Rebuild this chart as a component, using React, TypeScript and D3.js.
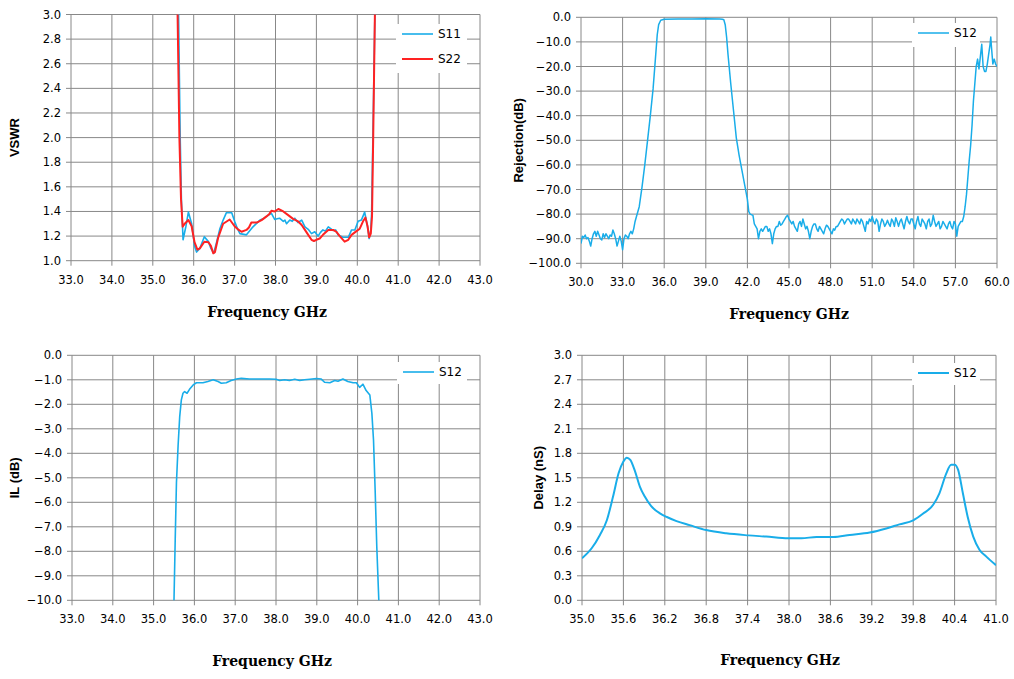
import React from 'react';
import * as d3 from 'd3';

// measured traces, [frequency GHz, value]
const vswrS11: [number, number][] = [
  [35.6, 4.0], [35.63, 3.0], [35.67, 2.0], [35.7, 1.49], [35.74, 1.17], [35.81, 1.28], [35.87, 1.395],
  [35.95, 1.3], [36.02, 1.12], [36.07, 1.07], [36.15, 1.1], [36.26, 1.195], [36.36, 1.155], [36.42, 1.1],
  [36.49, 1.06], [36.56, 1.15], [36.64, 1.26], [36.72, 1.33], [36.8, 1.39], [36.93, 1.39], [37.0, 1.32],
  [37.07, 1.26], [37.13, 1.22], [37.29, 1.21], [37.45, 1.275], [37.62, 1.33], [37.7, 1.34], [37.78, 1.36],
  [37.9, 1.385], [37.98, 1.335], [38.04, 1.34], [38.1, 1.345], [38.19, 1.32], [38.23, 1.33], [38.27, 1.3],
  [38.35, 1.33], [38.41, 1.32], [38.47, 1.345], [38.55, 1.31], [38.64, 1.33], [38.72, 1.275], [38.8, 1.255],
  [38.88, 1.22], [38.96, 1.235], [39.04, 1.2], [39.1, 1.23], [39.16, 1.25], [39.22, 1.24], [39.29, 1.275],
  [39.35, 1.26], [39.41, 1.245], [39.47, 1.25], [39.53, 1.21], [39.65, 1.19], [39.78, 1.19], [39.86, 1.25],
  [39.94, 1.25], [40.02, 1.32], [40.1, 1.33], [40.18, 1.395], [40.25, 1.28], [40.29, 1.18], [40.33, 1.25],
  [40.35, 1.385], [40.39, 2.17], [40.43, 3.0], [40.45, 4.0],
];

const vswrS22: [number, number][] = [
  [35.58, 4.0], [35.606, 3.0], [35.65, 2.0], [35.69, 1.5], [35.73, 1.276], [35.78, 1.3], [35.87, 1.33],
  [35.95, 1.28], [36.02, 1.15], [36.09, 1.09], [36.15, 1.1], [36.26, 1.154], [36.36, 1.15], [36.42, 1.12],
  [36.48, 1.06], [36.52, 1.07], [36.6, 1.19], [36.72, 1.3], [36.88, 1.335], [37.0, 1.28], [37.1, 1.25],
  [37.17, 1.235], [37.29, 1.25], [37.35, 1.27], [37.41, 1.31], [37.54, 1.31], [37.6, 1.32], [37.66, 1.33],
  [37.78, 1.36], [37.85, 1.38], [37.9, 1.405], [37.98, 1.4], [38.07, 1.42], [38.19, 1.4], [38.31, 1.37],
  [38.43, 1.34], [38.55, 1.32], [38.64, 1.29], [38.72, 1.25], [38.8, 1.21], [38.88, 1.17], [38.94, 1.16],
  [39.0, 1.17], [39.08, 1.18], [39.16, 1.21], [39.29, 1.25], [39.41, 1.25], [39.49, 1.235], [39.57, 1.2],
  [39.69, 1.155], [39.78, 1.17], [39.86, 1.21], [39.98, 1.24], [40.06, 1.26], [40.14, 1.32], [40.2, 1.35],
  [40.25, 1.28], [40.29, 1.19], [40.33, 1.22], [40.36, 1.36], [40.39, 2.03], [40.43, 3.0], [40.45, 4.0],
];

const rejectionS12: [number, number][] = [
  [30.0, -92], [30.1, -89], [30.2, -89.5], [30.3, -88.5], [30.4, -90], [30.5, -89.5], [30.6, -91], [30.7, -93],
  [30.8, -90], [30.9, -88], [31.0, -87], [31.1, -89], [31.2, -87], [31.3, -88.5], [31.4, -90], [31.5, -90.5],
  [31.6, -88], [31.7, -89.5], [31.8, -88], [31.9, -89], [32.0, -90], [32.1, -88.5], [32.2, -89], [32.3, -86.5],
  [32.4, -88], [32.5, -90], [32.6, -93], [32.7, -91], [32.8, -89], [32.9, -91], [33.0, -94.5], [33.1, -90],
  [33.2, -88.5], [33.3, -89], [33.4, -90], [33.5, -88], [33.6, -87], [33.7, -88], [33.8, -86], [33.9, -83],
  [34.0, -81], [34.2, -77], [34.4, -69], [34.6, -60], [34.8, -50], [35.0, -40], [35.2, -29], [35.35, -18],
  [35.5, -7], [35.6, -3], [35.75, -1.2], [36.0, -0.8], [37.0, -0.7], [38.0, -0.65], [39.0, -0.6],
  [40.0, -0.7], [40.2, -0.8], [40.3, -1.0], [40.4, -3], [40.5, -8], [40.6, -15], [40.8, -27], [41.0, -38],
  [41.2, -49], [41.4, -56], [41.6, -62], [41.8, -68], [42.0, -74], [42.1, -79], [42.2, -80], [42.4, -80.5],
  [42.5, -84], [42.6, -85], [42.7, -86], [42.8, -90], [42.9, -87], [43.0, -86], [43.1, -87], [43.2, -86],
  [43.3, -85], [43.4, -85], [43.5, -87], [43.6, -86], [43.7, -88], [43.8, -92], [43.9, -88], [44.0, -86],
  [44.1, -85], [44.2, -85], [44.3, -83], [44.4, -84.5], [44.5, -84], [44.6, -83], [44.7, -82], [44.8, -81],
  [44.9, -80.5], [45.0, -82], [45.1, -83], [45.2, -84], [45.3, -83], [45.4, -85], [45.5, -86], [45.6, -87],
  [45.7, -84], [45.8, -83], [45.9, -85], [46.0, -82], [46.1, -84], [46.2, -86], [46.3, -85], [46.4, -87],
  [46.5, -90], [46.6, -87], [46.7, -85], [46.8, -84], [46.9, -84], [47.0, -86], [47.1, -87], [47.2, -85],
  [47.3, -86], [47.4, -87], [47.5, -88], [47.6, -86], [47.7, -84.5], [47.8, -85], [47.9, -86], [48.0, -87],
  [48.1, -88], [48.2, -86], [48.3, -86.5], [48.4, -85], [48.5, -85], [48.6, -84], [48.7, -83], [48.8, -82],
  [48.9, -82.5], [49.0, -84], [49.1, -83], [49.2, -82], [49.3, -82], [49.4, -83], [49.5, -84], [49.6, -82],
  [49.7, -83], [49.8, -84], [49.9, -82], [50.0, -83], [50.1, -84], [50.2, -82], [50.3, -83], [50.4, -85],
  [50.5, -87], [50.6, -83], [50.7, -84], [50.8, -82], [50.9, -83], [51.0, -81], [51.1, -83], [51.2, -84],
  [51.3, -82], [51.4, -83], [51.5, -87], [51.6, -84], [51.7, -82], [51.8, -83], [51.9, -85], [52.0, -84],
  [52.1, -82.5], [52.2, -84], [52.3, -85], [52.4, -82], [52.5, -83], [52.6, -85], [52.7, -81.5], [52.8, -83],
  [52.9, -85], [53.0, -83], [53.1, -82], [53.2, -84], [53.3, -86], [53.4, -83], [53.5, -81], [53.6, -83],
  [53.7, -84], [53.8, -82], [53.9, -82], [54.0, -84], [54.1, -86], [54.2, -83], [54.3, -81], [54.4, -84],
  [54.5, -85], [54.6, -82], [54.7, -83], [54.8, -84], [54.9, -86], [55.0, -83], [55.1, -82], [55.2, -85],
  [55.3, -84], [55.4, -80.5], [55.5, -83], [55.6, -85], [55.7, -84], [55.8, -83], [55.9, -86], [56.0, -85],
  [56.1, -83], [56.2, -84], [56.3, -85], [56.4, -86], [56.5, -84], [56.6, -83], [56.7, -85], [56.8, -86],
  [56.9, -83], [57.0, -84], [57.1, -89], [57.2, -85], [57.3, -84], [57.4, -83], [57.5, -83], [57.6, -81],
  [57.7, -77], [57.8, -72], [57.9, -65], [58.0, -58], [58.1, -52], [58.2, -44], [58.3, -34], [58.4, -27],
  [58.5, -20], [58.6, -17], [58.7, -21], [58.8, -16], [58.9, -11], [59.0, -20], [59.1, -22], [59.2, -22],
  [59.3, -19], [59.4, -15], [59.5, -11], [59.55, -8], [59.6, -12], [59.7, -19], [59.8, -17], [59.9, -19],
  [60.0, -20],
];

const ilS12: [number, number][] = [
  [35.49, -10.5], [35.5, -10], [35.53, -7.5], [35.56, -5.2], [35.6, -3.7], [35.64, -2.5], [35.68, -1.82],
  [35.72, -1.55], [35.76, -1.48], [35.82, -1.55], [35.88, -1.39], [35.97, -1.21], [36.05, -1.12],
  [36.21, -1.12], [36.33, -1.07], [36.46, -1.0], [36.58, -1.07], [36.66, -1.14], [36.78, -1.12],
  [36.9, -1.03], [37.03, -0.97], [37.15, -0.94], [37.35, -0.97], [37.6, -0.97], [37.84, -0.97],
  [38.0, -0.98], [38.09, -1.03], [38.21, -1.0], [38.33, -1.03], [38.46, -0.98], [38.58, -1.03], [38.7, -1.0],
  [38.83, -0.98], [38.99, -0.95], [39.11, -0.97], [39.19, -1.1], [39.32, -1.12], [39.44, -1.03],
  [39.52, -1.06], [39.64, -0.97], [39.76, -1.07], [39.89, -1.12], [39.97, -1.12], [40.05, -1.31],
  [40.13, -1.18], [40.21, -1.44], [40.3, -1.62], [40.35, -2.37], [40.39, -3.46], [40.43, -5.5],
  [40.47, -7.8], [40.52, -10], [40.53, -10.5],
];

const delayS12: [number, number][] = [
  [35.0, 0.514], [35.14, 0.637], [35.26, 0.8], [35.36, 0.98], [35.45, 1.27], [35.53, 1.555], [35.6, 1.7],
  [35.65, 1.747], [35.7, 1.72], [35.77, 1.575], [35.84, 1.39], [35.91, 1.27], [36.0, 1.155], [36.13, 1.065],
  [36.23, 1.02], [36.37, 0.97], [36.56, 0.92], [36.8, 0.86], [37.09, 0.82], [37.41, 0.795], [37.67, 0.78],
  [37.99, 0.76], [38.18, 0.76], [38.4, 0.775], [38.64, 0.775], [38.88, 0.8], [39.17, 0.83], [39.41, 0.88],
  [39.6, 0.93], [39.8, 0.98], [39.94, 1.06], [40.09, 1.17], [40.18, 1.31], [40.28, 1.555], [40.35, 1.66],
  [40.4, 1.66], [40.45, 1.6], [40.52, 1.31], [40.59, 1.02], [40.67, 0.78], [40.76, 0.62], [40.86, 0.535],
  [41.0, 0.43],
];

// axis ticks
const vswrXTicks = [33, 34, 35, 36, 37, 38, 39, 40, 41, 42, 43];
const vswrYTicks = [1.0, 1.2, 1.4, 1.6, 1.8, 2.0, 2.2, 2.4, 2.6, 2.8, 3.0];
const rejXTicks = [30, 33, 36, 39, 42, 45, 48, 51, 54, 57, 60];
const rejYTicks = [0, -10, -20, -30, -40, -50, -60, -70, -80, -90, -100];
const ilXTicks = [33, 34, 35, 36, 37, 38, 39, 40, 41, 42, 43];
const ilYTicks = [0, -1, -2, -3, -4, -5, -6, -7, -8, -9, -10];
const delayXTicks = [35.0, 35.6, 36.2, 36.8, 37.4, 38.0, 38.6, 39.2, 39.8, 40.4, 41.0];
const delayYTicks = [0, 0.3, 0.6, 0.9, 1.2, 1.5, 1.8, 2.1, 2.4, 2.7, 3.0];

const BLUE = '#19ade9';
const RED = '#ff2222';
const GRID = '#888888';
const TICK_FONT = '"DejaVu Sans", Verdana, sans-serif';

interface Series { name: string; data: [number, number][]; color: string; width: number }

interface ChartProps {
  id: string;
  left: number; right: number; top: number; bottom: number;
  xTicks: number[]; yTicks: number[];
  yLabel: string; yLabelX: number;
  xTitleX: number; xTitleY: number;
  series: Series[];
  smooth?: boolean;
  legend: { x: number; y: number; w: number; h: number };
}

function Chart(p: ChartProps) {
  const x = d3.scaleLinear().domain(d3.extent(p.xTicks) as [number, number]).range([p.left, p.right]);
  const y = d3.scaleLinear().domain(d3.extent(p.yTicks) as [number, number]).range([p.bottom, p.top]);
  const line = d3.line<[number, number]>()
    .x((d) => x(d[0]))
    .y((d) => y(d[1]))
    .curve(p.smooth ? d3.curveMonotoneX : d3.curveLinear);
  const fmt = d3.format('.1f');

  return (
    <g>
      <defs>
        <clipPath id={p.id}>
          <rect x={p.left} y={p.top} width={p.right - p.left} height={p.bottom - p.top} />
        </clipPath>
      </defs>
      {/* grid */}
      {p.xTicks.map((t) => (
        <line key={'gx' + t} x1={x(t)} x2={x(t)} y1={p.top} y2={p.bottom + 5} stroke={GRID} strokeWidth={1} />
      ))}
      {p.yTicks.map((t) => (
        <line key={'gy' + t} x1={p.left - 5} x2={p.right} y1={y(t)} y2={y(t)} stroke={GRID} strokeWidth={1} />
      ))}
      {/* tick labels */}
      {p.xTicks.map((t) => (
        <text key={'lx' + t} x={x(t)} y={p.bottom + 23} textAnchor="middle" fontFamily={TICK_FONT} fontSize={11.5} fill="#000">
          {fmt(t)}
        </text>
      ))}
      {p.yTicks.map((t) => (
        <text key={'ly' + t} x={p.left - 10} y={y(t) + 4} textAnchor="end" fontFamily={TICK_FONT} fontSize={11.5} fill="#000">
          {fmt(t)}
        </text>
      ))}
      {/* legend box */}
      <rect x={p.legend.x} y={p.legend.y} width={p.legend.w} height={p.legend.h} fill="#fff" />
      {p.series.map((s, i) => (
        <g key={'lg' + s.name}>
          <line x1={p.legend.x + 6} x2={p.legend.x + 37} y1={p.legend.y + 10 + i * 25} y2={p.legend.y + 10 + i * 25}
            stroke={s.color} strokeWidth={s.width} />
          <text x={p.legend.x + 42} y={p.legend.y + 14 + i * 25} fontFamily={TICK_FONT} fontSize={12} fill="#000">{s.name}</text>
        </g>
      ))}
      {/* traces */}
      <g clipPath={`url(#${p.id})`}>
        {p.series.map((s) => (
          <path key={s.name} d={line(s.data) || ''} fill="none" stroke={s.color} strokeWidth={s.width} strokeLinejoin="round" />
        ))}
      </g>
      {/* titles */}
      <text transform={`translate(${p.yLabelX},${(p.top + p.bottom) / 2}) rotate(-90)`} textAnchor="middle"
        dominantBaseline="central" fontFamily='"Liberation Sans", Arial, sans-serif' fontWeight="bold" fontSize={13}>
        {p.yLabel}
      </text>
      <text x={p.xTitleX} y={p.xTitleY} textAnchor="middle" fontFamily='"DejaVu Serif", serif' fontWeight="bold" fontSize={14}>
        Frequency GHz
      </text>
    </g>
  );
}

export default function App() {
  return (
    <svg width={1014} height={679} style={{ position: 'absolute', left: 0, top: 0, background: '#fff' }}>
      <rect width={1014} height={679} fill="#fff" />
      <Chart id="c1" left={71} right={480} top={14.5} bottom={260.7}
        xTicks={vswrXTicks} yTicks={vswrYTicks} yLabel="VSWR" yLabelX={14}
        xTitleX={267} xTitleY={317}
        series={[
          { name: 'S11', data: vswrS11, color: BLUE, width: 1.6 },
          { name: 'S22', data: vswrS22, color: RED, width: 2 },
        ]}
        legend={{ x: 396, y: 24, w: 71, h: 49 }} />
      <Chart id="c2" left={581} right={997} top={17.3} bottom={263.3}
        xTicks={rejXTicks} yTicks={rejYTicks} yLabel="Rejection(dB)" yLabelX={518}
        xTitleX={789} xTitleY={319}
        series={[{ name: 'S12', data: rejectionS12, color: BLUE, width: 1.5 }]}
        legend={{ x: 912, y: 23, w: 68, h: 24 }} />
      <Chart id="c3" left={72} right={480} top={355.3} bottom={600.3}
        xTicks={ilXTicks} yTicks={ilYTicks} yLabel="IL (dB)" yLabelX={14}
        xTitleX={272} xTitleY={666}
        series={[{ name: 'S12', data: ilS12, color: BLUE, width: 1.6 }]}
        legend={{ x: 397, y: 362, w: 70, h: 22 }} />
      <Chart id="c4" left={582} right={996} top={355.3} bottom={600.3}
        xTicks={delayXTicks} yTicks={delayYTicks} yLabel="Delay (nS)" yLabelX={538}
        xTitleX={780} xTitleY={665}
        series={[{ name: 'S12', data: delayS12, color: BLUE, width: 2 }]}
        smooth
        legend={{ x: 912, y: 363, w: 68, h: 22 }} />
    </svg>
  );
}
